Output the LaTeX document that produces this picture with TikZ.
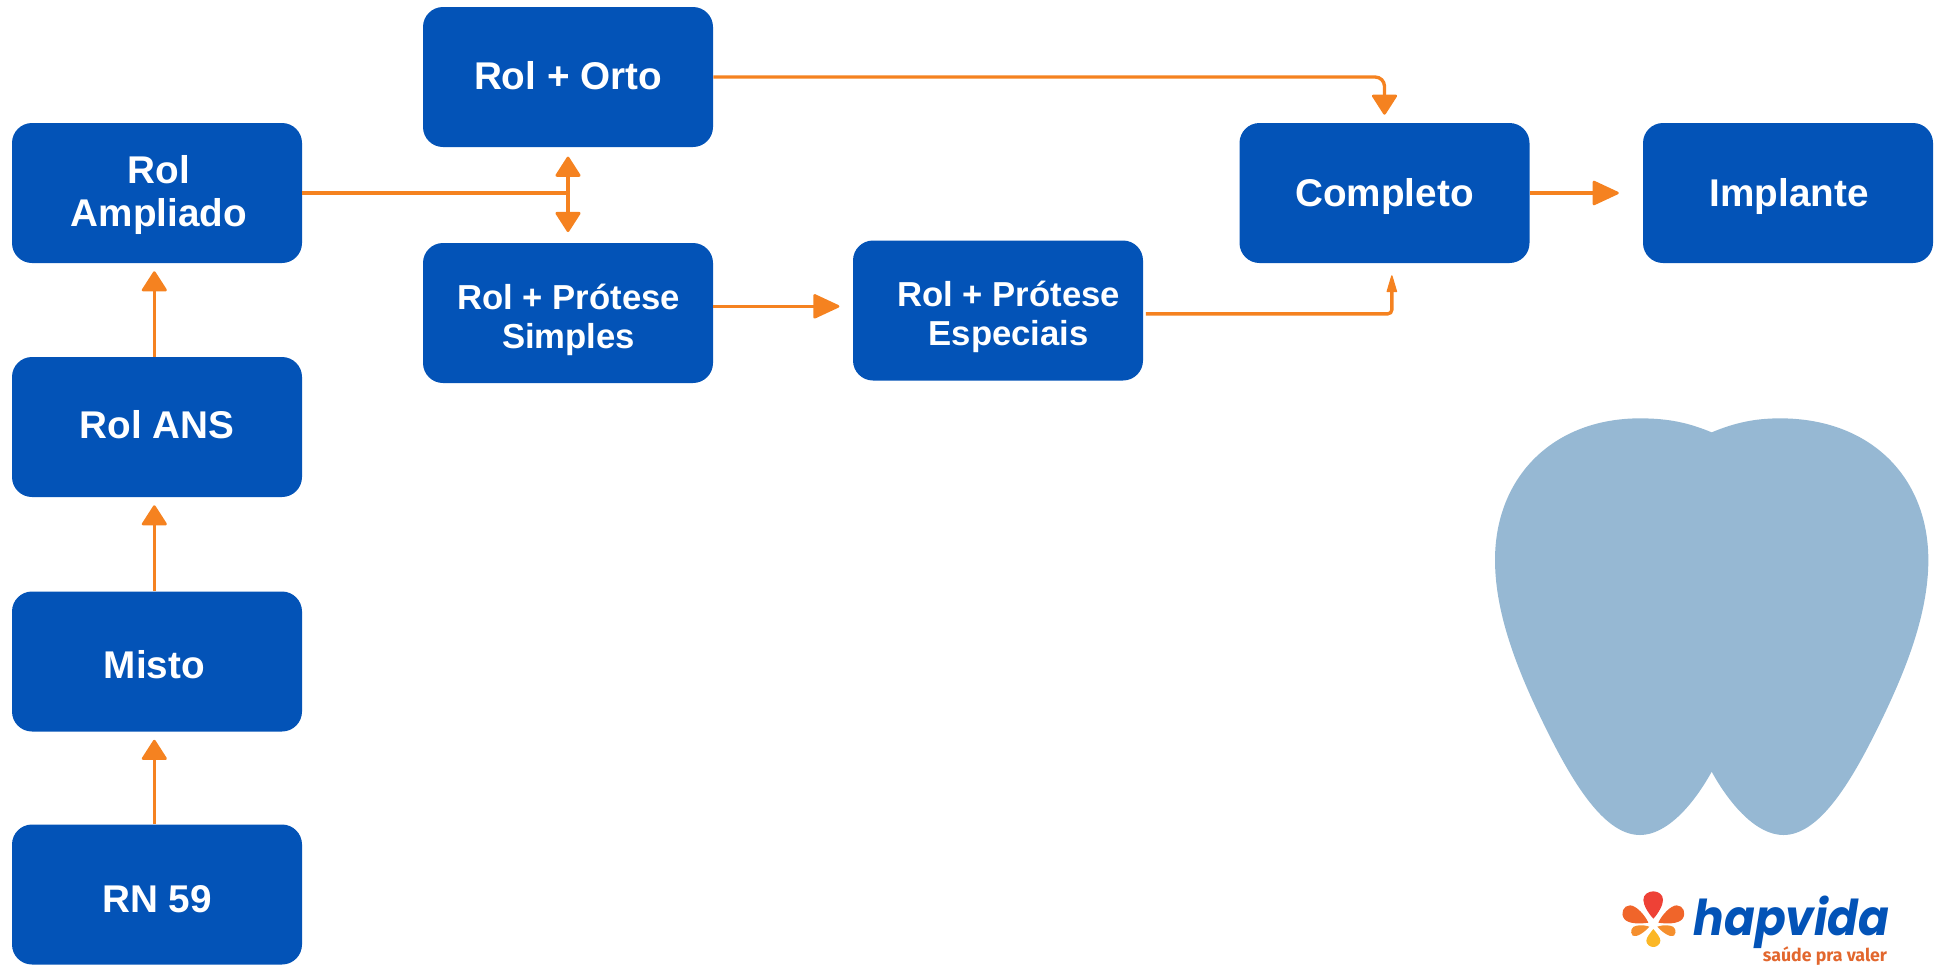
\documentclass[tikz,border=0pt]{standalone}
\usepackage{fontspec}
\setmainfont{Liberation Sans}
\newfontfamily\hapfont{Poppins}
\newfontfamily\tagfont{Fira Sans}
\usetikzlibrary{arrows.meta}
\definecolor{boxblue}{HTML}{0353B7}
\definecolor{linkorange}{HTML}{F58220}
\definecolor{toothblue}{HTML}{96B8D3}
\definecolor{petalred}{HTML}{EE4136}
\definecolor{petalorange}{HTML}{F0652A}
\definecolor{petallight}{HTML}{F58F2E}
\definecolor{petalyellow}{HTML}{FBB726}
\definecolor{tagcolor}{HTML}{E2672E}
\newcommand{\movetext}[2]{\raisebox{#1}[\height][\depth]{#2}}
\tikzset{
  x=0.75pt,y=-0.75pt,
  stepbox/.style={fill=boxblue,rounded corners=15pt,minimum width=217.5pt,minimum height=105pt,
    inner sep=0pt,align=center,text=white,font=\fontsize{29}{32}\selectfont\bfseries},
  smallbox/.style={stepbox,font=\fontsize{26}{29}\selectfont\bfseries},
  link/.style={draw=linkorange,line width=2.5pt,rounded corners=7pt},
  head/.style={-{Triangle[length=16pt,width=20pt,round,line width=2pt]}},
  bighead/.style={-{Triangle[length=21pt,width=19pt,round,line width=2pt]}},
  thinhead/.style={-{Triangle[length=14pt,width=8pt,round,line width=1pt]}},
}
\begin{document}
\begin{tikzpicture}
\useasboundingbox (0,0) rectangle (1937,965);
% tooth
\begin{scope}[shift={(1470,400)},x=0.25pt,y=-0.25pt]
\fill[toothblue] (725,97) .. controls (790,70) and (850,55) .. (930,55)
  .. controls (1200,55) and (1375,230) .. (1375,480)
  .. controls (1375,650) and (1300,830) .. (1215,1000)
  .. controls (1130,1170) and (1040,1305) .. (940,1305)
  .. controls (860,1305) and (780,1215) .. (725,1115)
  .. controls (670,1215) and (590,1305) .. (510,1305)
  .. controls (410,1305) and (320,1170) .. (235,1000)
  .. controls (150,830) and (75,650) .. (75,480)
  .. controls (75,230) and (250,55) .. (510,55)
  .. controls (600,55) and (660,70) .. (725,97) -- cycle;
\end{scope}
% boxes
\node[stepbox] (rn) at (157,894.5) {\movetext{-3.7pt}{RN 59}};
\node[stepbox] (misto) at (157,661.5) {\hspace*{-4pt}\movetext{-2.5pt}{Misto}};
\node[stepbox] (ans) at (157,427) {\movetext{1.9pt}{Rol ANS}};
\node[stepbox] (ampl) at (157,193) {\hspace*{3pt}\movetext{-1.5pt}{Rol}\\\hspace*{3pt}\movetext{-1.5pt}{Ampliado}};
\node[stepbox] (orto) at (568,77) {\movetext{1pt}{Rol + Orto}};
\node[smallbox] (simples) at (568,313) {\hspace*{1pt}\movetext{-5pt}{Rol + Prótese}\\\hspace*{1pt}\movetext{-5pt}{Simples}};
\node[smallbox] (esp) at (998,310.5) {\hspace*{16pt}\movetext{-5pt}{Rol + Prótese}\\\hspace*{16pt}\movetext{-5pt}{Especiais}};
\node[stepbox] (comp) at (1384.5,193) {\movetext{-2.8pt}{Completo}};
\node[stepbox] (impl) at (1788,193) {\hspace*{2pt}\movetext{-2.8pt}{Implante}};
\coordinate (sout) at ([yshift=5pt]simples.east);
% connectors
\draw[link,head,shorten >=6pt] ([xshift=-2pt]rn.north) -- ([xshift=-2pt]misto.south);
\draw[link,head,shorten >=6pt] ([xshift=-2pt]misto.north) -- ([xshift=-2pt]ans.south);
\draw[link,head,shorten >=6pt] ([xshift=-2pt]ans.north) -- ([xshift=-2pt]ampl.south);
\draw[link] (ampl.east) -- (orto.south |- ampl.east);
\draw[link,{Triangle[length=16pt,width=20pt,round,line width=2pt]}-{Triangle[length=16pt,width=20pt,round,line width=2pt]},shorten <=7pt,shorten >=8pt] (orto.south) -- (simples.north);
\draw[link,head,shorten >=6pt] (orto.east) -| (comp.north);
\draw[link,bighead,shorten >=10pt] (sout) -- (esp.west |- sout);
\draw[link,thinhead,shorten >=9pt,rounded corners=3pt] ([yshift=-2.5pt,xshift=2pt]esp.east) -| ([xshift=5.5pt]comp.south);
\draw[link,bighead,shorten >=18pt] (comp.east) -- (impl.west);
% logo
\begin{scope}[shift={(1580,860)},x=0.25pt,y=-0.25pt]
\fill[petalred] (220,176) .. controls (205,160) and (190,135) .. (190,120) .. controls (190,103) and (205,94) .. (220,94) .. controls (235,94) and (249,103) .. (249,120) .. controls (249,135) and (235,160) .. (220,176) -- cycle;
\fill[petalorange] (205,188) .. controls (180,192) and (145,192) .. (133,177) .. controls (120,160) and (130,136) .. (150,136) .. controls (168,136) and (195,165) .. (205,188) -- cycle;
\fill[petalorange] (235,188) .. controls (260,192) and (295,192) .. (307,177) .. controls (320,160) and (310,136) .. (290,136) .. controls (272,136) and (245,165) .. (235,188) -- cycle;
\fill[petallight] (208,200) .. controls (195,215) and (170,234) .. (158,227) .. controls (148,215) and (155,198) .. (170,197) .. controls (185,194) and (200,197) .. (208,200) -- cycle;
\fill[petallight] (232,200) .. controls (245,215) and (270,234) .. (282,227) .. controls (292,215) and (285,198) .. (270,197) .. controls (255,194) and (240,197) .. (232,200) -- cycle;
\fill[petalyellow] (220,207) .. controls (210,220) and (199,232) .. (199,242) .. controls (199,253) and (210,261) .. (220,261) .. controls (230,261) and (241,253) .. (241,242) .. controls (241,232) and (230,220) .. (220,207) -- cycle;
\node[anchor=base west,inner sep=0pt,text=boxblue,font=\hapfont\fontsize{37}{38}\selectfont\bfseries\itshape] (hap) at (340,226) {\scalebox{0.92}[1]{hapvida}};
\node[anchor=base east,inner sep=0pt,text=tagcolor,font=\tagfont\fontsize{13.3}{14}\selectfont\bfseries] (tag) at (922,304) {saúde pra valer};
\end{scope}
\end{tikzpicture}
\end{document}
